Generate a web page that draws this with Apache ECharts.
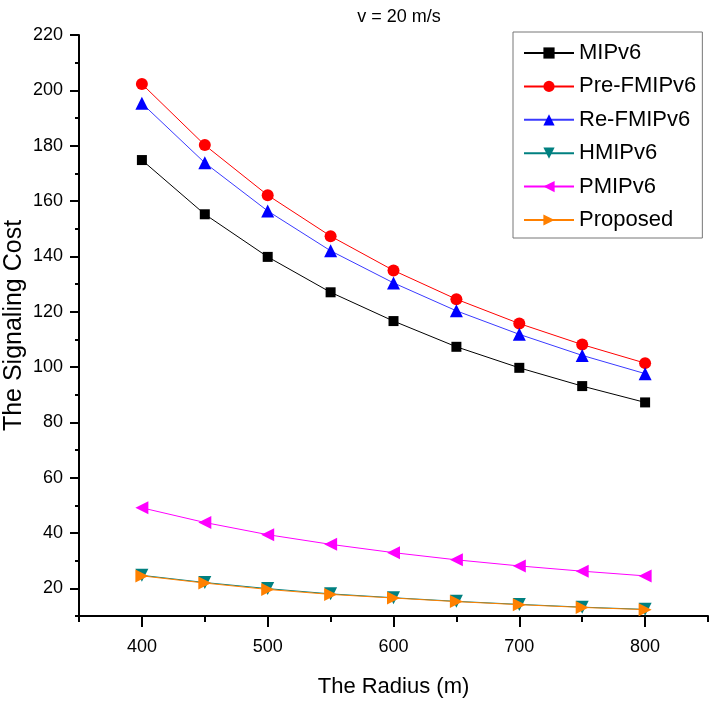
<!DOCTYPE html>
<html><head><meta charset="utf-8">
<script src="https://cdn.jsdelivr.net/npm/echarts@6/dist/echarts.min.js"></script>
<style>html,body{margin:0;padding:0;background:#fff}#c{width:711px;height:701px}</style>
</head><body><div id="c"></div>
<script>
const radius = [400, 450, 500, 550, 600, 650, 700, 750, 800];
const mipv6 = [174.8, 155.2, 139.8, 127.0, 116.6, 107.3, 99.7, 93.1, 87.2];
const preFmipv6 = [202.3, 180.2, 162.1, 147.3, 134.9, 124.5, 115.7, 108.1, 101.4];
const reFmipv6 = [195.3, 173.8, 156.4, 142.0, 130.4, 120.3, 111.8, 104.2, 97.6];
const hmipv6 = [24.7, 22.1, 19.9, 18.0, 16.6, 15.3, 14.2, 13.2, 12.4];
const pmipv6 = [49.1, 43.8, 39.4, 35.9, 32.9, 30.3, 28.1, 26.2, 24.5];
const proposed = [24.5, 21.9, 19.6, 17.8, 16.5, 15.2, 14.1, 13.1, 12.3];
const xMajor = [400, 500, 600, 700, 800];
const xMinor = [350, 450, 550, 650, 750, 850];
const yMajor = [20, 40, 60, 80, 100, 120, 140, 160, 180, 200, 220];
const yMinor = [10, 30, 50, 70, 90, 110, 130, 150, 170, 190, 210];

const font = '"Liberation Sans", Arial, sans-serif';
const chart = echarts.init(document.getElementById('c'));
const pair = a => a.map((v, i) => [radius[i], v]);
function ser(name, data, color, symbol, size, rot, lineColor) {
  return {
    name, type: 'line', data: pair(data), symbol, symbolSize: size, symbolRotate: rot,
    lineStyle: { color: lineColor || color, width: 1 },
    itemStyle: { color: color },
    xAxisIndex: 0, yAxisIndex: 0, animation: false
  };
}
const axisLine = { lineStyle: { color: '#000', width: 2 } };
chart.setOption({
  animation: false,
  title: { text: 'v = 20 m/s', left: 394, textAlign: 'center', top: 3,
    textStyle: { fontFamily: font, fontSize: 18, fontWeight: 'normal', color: '#000' } },
  grid: { left: 79, right: 3, top: 35, bottom: 85, containLabel: false, outerBoundsMode: 'none' },
  legend: {
    left: 513, top: 32, orient: 'vertical',
    borderColor: '#777', borderWidth: 1, padding: [9, 6, 6, 10],
    itemWidth: 50, itemHeight: 14, itemGap: 9.4,
    textStyle: { fontFamily: font, fontSize: 22, color: '#000', lineHeight: 24 },
    data: ['MIPv6', 'Pre-FMIPv6', 'Re-FMIPv6', 'HMIPv6', 'PMIPv6', 'Proposed']
  },
  xAxis: [{
    type: 'value', min: 350, max: 850, position: 'bottom',
    name: 'The Radius (m)', nameLocation: 'middle', nameGap: 60, nameMoveOverlap: false,
    nameTextStyle: { fontFamily: font, fontSize: 22, color: '#000' },
    axisLine: axisLine, splitLine: { show: false },
    axisTick: { show: true, customValues: xMinor, length: 6, lineStyle: { color: '#000', width: 2 } },
    axisLabel: { customValues: xMajor, fontFamily: font, fontSize: 18, color: '#000', margin: 22 }
  }, {
    type: 'value', min: 350, max: 850, position: 'bottom', gridIndex: 0,
    axisLine: { show: false }, splitLine: { show: false },
    axisTick: { show: true, customValues: xMajor, length: 11, lineStyle: { color: '#000', width: 2 } },
    axisLabel: { show: false }
  }],
  yAxis: [{
    type: 'value', min: 10, max: 220, position: 'left',
    name: 'The Signaling Cost', nameLocation: 'middle', nameGap: 52, nameMoveOverlap: false,
    nameTextStyle: { fontFamily: font, fontSize: 25, color: '#000' },
    axisLine: Object.assign({ show: true }, axisLine), splitLine: { show: false },
    axisTick: { show: true, customValues: yMajor, length: 9, lineStyle: { color: '#000', width: 2 } },
    axisLabel: { customValues: yMajor, fontFamily: font, fontSize: 18, color: '#000', margin: 16 }
  }, {
    type: 'value', min: 10, max: 220, position: 'left',
    axisLine: { show: false }, splitLine: { show: false },
    axisTick: { show: true, customValues: yMinor, length: 4, lineStyle: { color: '#000', width: 2 } },
    axisLabel: { show: false }
  }],
  series: [
    ser('MIPv6', mipv6, '#000000', 'rect', 10, 0),
    ser('Pre-FMIPv6', preFmipv6, '#ff0000', 'circle', 12, 0),
    ser('Re-FMIPv6', reFmipv6, '#0000ff', 'triangle', 13, 0, '#3a3aff'),
    ser('HMIPv6', hmipv6, '#008080', 'triangle', 13, 180),
    ser('PMIPv6', pmipv6, '#ff00ff', 'triangle', 13, 90),
    ser('Proposed', proposed, '#ff8000', 'triangle', 13, -90)
  ]
});
</script></body></html>
